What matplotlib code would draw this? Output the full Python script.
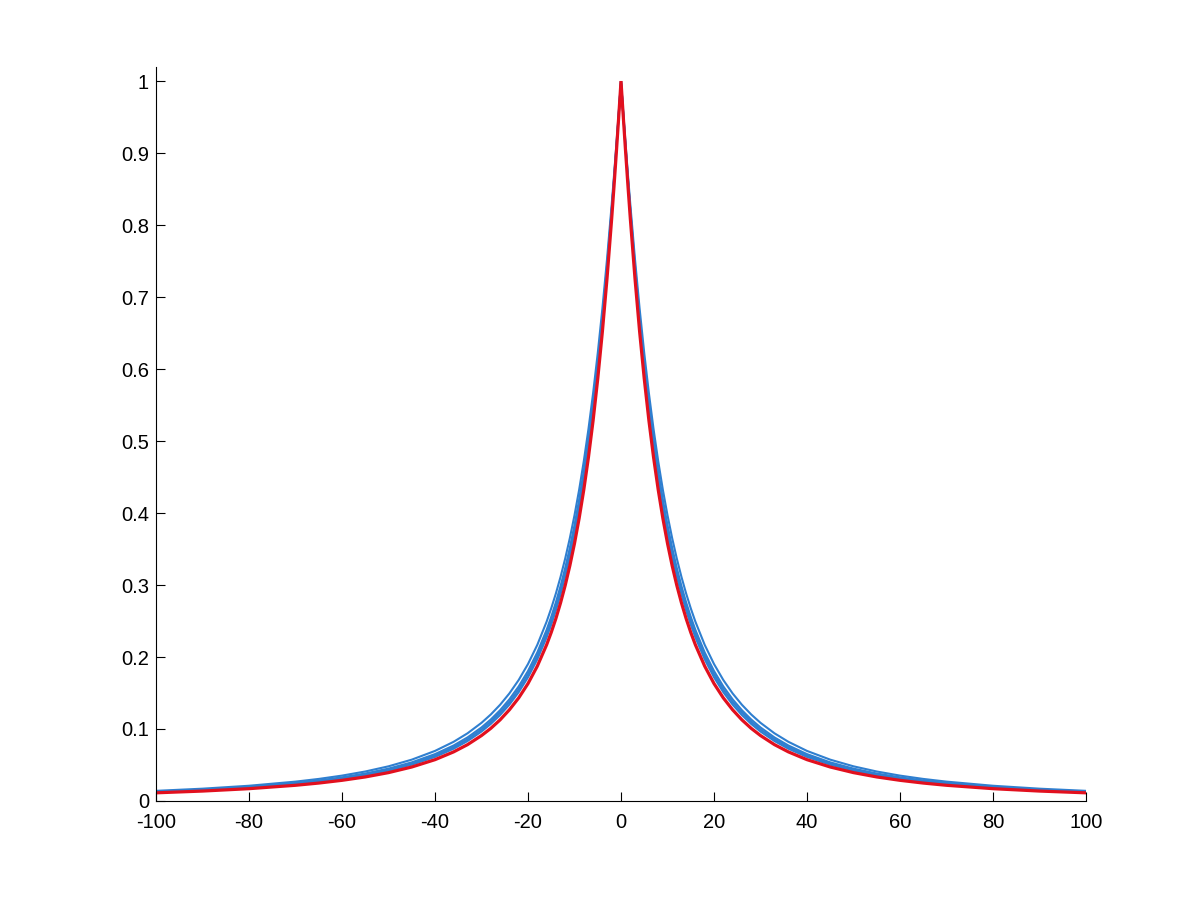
import numpy as np
import matplotlib
matplotlib.use("Agg")
import matplotlib.pyplot as plt

# one-sided sample positions (curves are symmetric about 0)
x_half = [0, 0.5, 1, 1.5, 2, 3, 4, 5, 6, 7, 8, 9, 10, 11, 12, 13, 14, 15, 16, 18,
          20, 22, 24, 26, 28, 30, 33, 36, 40, 45, 50, 55, 60, 65, 70, 80, 90, 100]

red_half = [1.0, 0.9495, 0.9007, 0.8539, 0.8092, 0.7263, 0.6522, 0.5865, 0.5285, 0.4774,
            0.4324, 0.3927, 0.3578, 0.3269, 0.2995, 0.2752, 0.2535, 0.2342, 0.2169, 0.1873,
            0.1631, 0.1432, 0.1267, 0.1127, 0.1009, 0.0909, 0.0783, 0.0682, 0.0574, 0.0472,
            0.0394, 0.0334, 0.0287, 0.0249, 0.0218, 0.0171, 0.01378, 0.01133]

blue1_half = [1.0, 0.95142, 0.90442, 0.85921, 0.81593, 0.73543, 0.66307, 0.59853, 0.54123, 0.49050,
              0.44562, 0.40590, 0.37072, 0.33950, 0.31174, 0.28700, 0.26489, 0.24509, 0.22730, 0.19683,
              0.17186, 0.15120, 0.13394, 0.11940, 0.10706, 0.09649, 0.08330, 0.07260, 0.06123, 0.05038,
              0.04215, 0.03577, 0.03073, 0.02668, 0.02337, 0.01837, 0.01481, 0.01219]
blue2_half = [1.0, 0.95232, 0.90617, 0.86172, 0.81913, 0.73977, 0.66825, 0.60430, 0.54738, 0.49685,
              0.45204, 0.41231, 0.37704, 0.34568, 0.31774, 0.29281, 0.27049, 0.25048, 0.23248, 0.20157,
              0.17621, 0.15518, 0.13759, 0.12275, 0.11013, 0.09932, 0.08581, 0.07484, 0.06316, 0.05201,
              0.04354, 0.03697, 0.03177, 0.02759, 0.02418, 0.01901, 0.01533, 0.01263]
blue3_half = [1.0, 0.95319, 0.90785, 0.86414, 0.82222, 0.74397, 0.67328, 0.60991, 0.55337, 0.50306,
              0.45834, 0.41860, 0.38325, 0.35176, 0.32367, 0.29855, 0.27604, 0.25582, 0.23761, 0.20630,
              0.18054, 0.15915, 0.14123, 0.12609, 0.11321, 0.10216, 0.08833, 0.07708, 0.06511, 0.05365,
              0.04494, 0.03818, 0.03283, 0.02852, 0.02500, 0.01967, 0.01587, 0.01307]
blue4_half = [1.0, 0.95504, 0.91141, 0.86930, 0.82880, 0.75296, 0.68409, 0.62202, 0.56635, 0.51656,
              0.47208, 0.43237, 0.39690, 0.36518, 0.33677, 0.31127, 0.28835, 0.26770, 0.24905, 0.21686,
              0.19026, 0.16809, 0.14945, 0.13366, 0.12018, 0.10859, 0.09405, 0.08220, 0.06955, 0.05741,
              0.04816, 0.04096, 0.03525, 0.03065, 0.02689, 0.02117, 0.01710, 0.01409]

x_ticks = [-100, -80, -60, -40, -20, 0, 20, 40, 60, 80, 100]
y_ticks = [0, 0.1, 0.2, 0.3, 0.4, 0.5, 0.6, 0.7, 0.8, 0.9, 1]
x_ticklabels = ["-100", "-80", "-60", "-40", "-20", "0", "20", "40", "60", "80", "100"]
y_ticklabels = ["0", "0.1", "0.2", "0.3", "0.4", "0.5", "0.6", "0.7", "0.8", "0.9", "1"]


def mirror(xh, yh):
    xh = np.asarray(xh, float)
    yh = np.asarray(yh, float)
    return np.concatenate([-xh[::-1], xh[1:]]), np.concatenate([yh[::-1], yh[1:]])


plt.rcParams['font.family'] = ['Liberation Sans', 'DejaVu Sans']

fig = plt.figure(figsize=(12, 9.01), dpi=100)
ax = fig.add_axes([0.13, 0.111, 0.775, 0.8146])

blue = '#2f7fd0'
red = '#e2101e'
for bh in [blue1_half, blue2_half, blue3_half, blue4_half]:
    xx, yy = mirror(x_half, bh)
    ax.plot(xx, yy, color=blue, lw=1.5, solid_joinstyle='miter')
xx, yy = mirror(x_half, red_half)
ax.plot(xx, yy, color=red, lw=2.3, solid_joinstyle='miter')

ax.set_xlim(-100, 100)
ax.set_ylim(0, 1.0195)
ax.set_xticks(x_ticks)
ax.set_xticklabels(x_ticklabels)
ax.set_yticks(y_ticks)
ax.set_yticklabels(y_ticklabels)

for s in ['top', 'right']:
    ax.spines[s].set_visible(False)
for s in ['left', 'bottom']:
    ax.spines[s].set_linewidth(0.8)
    ax.spines[s].set_color('black')

ax.tick_params(axis='both', direction='in', length=6.7, width=0.8, labelsize=14.5, colors='black')
ax.tick_params(axis='y', pad=5)
ax.tick_params(axis='x', pad=9)

fig.savefig('out.png', dpi=100, facecolor='white')
